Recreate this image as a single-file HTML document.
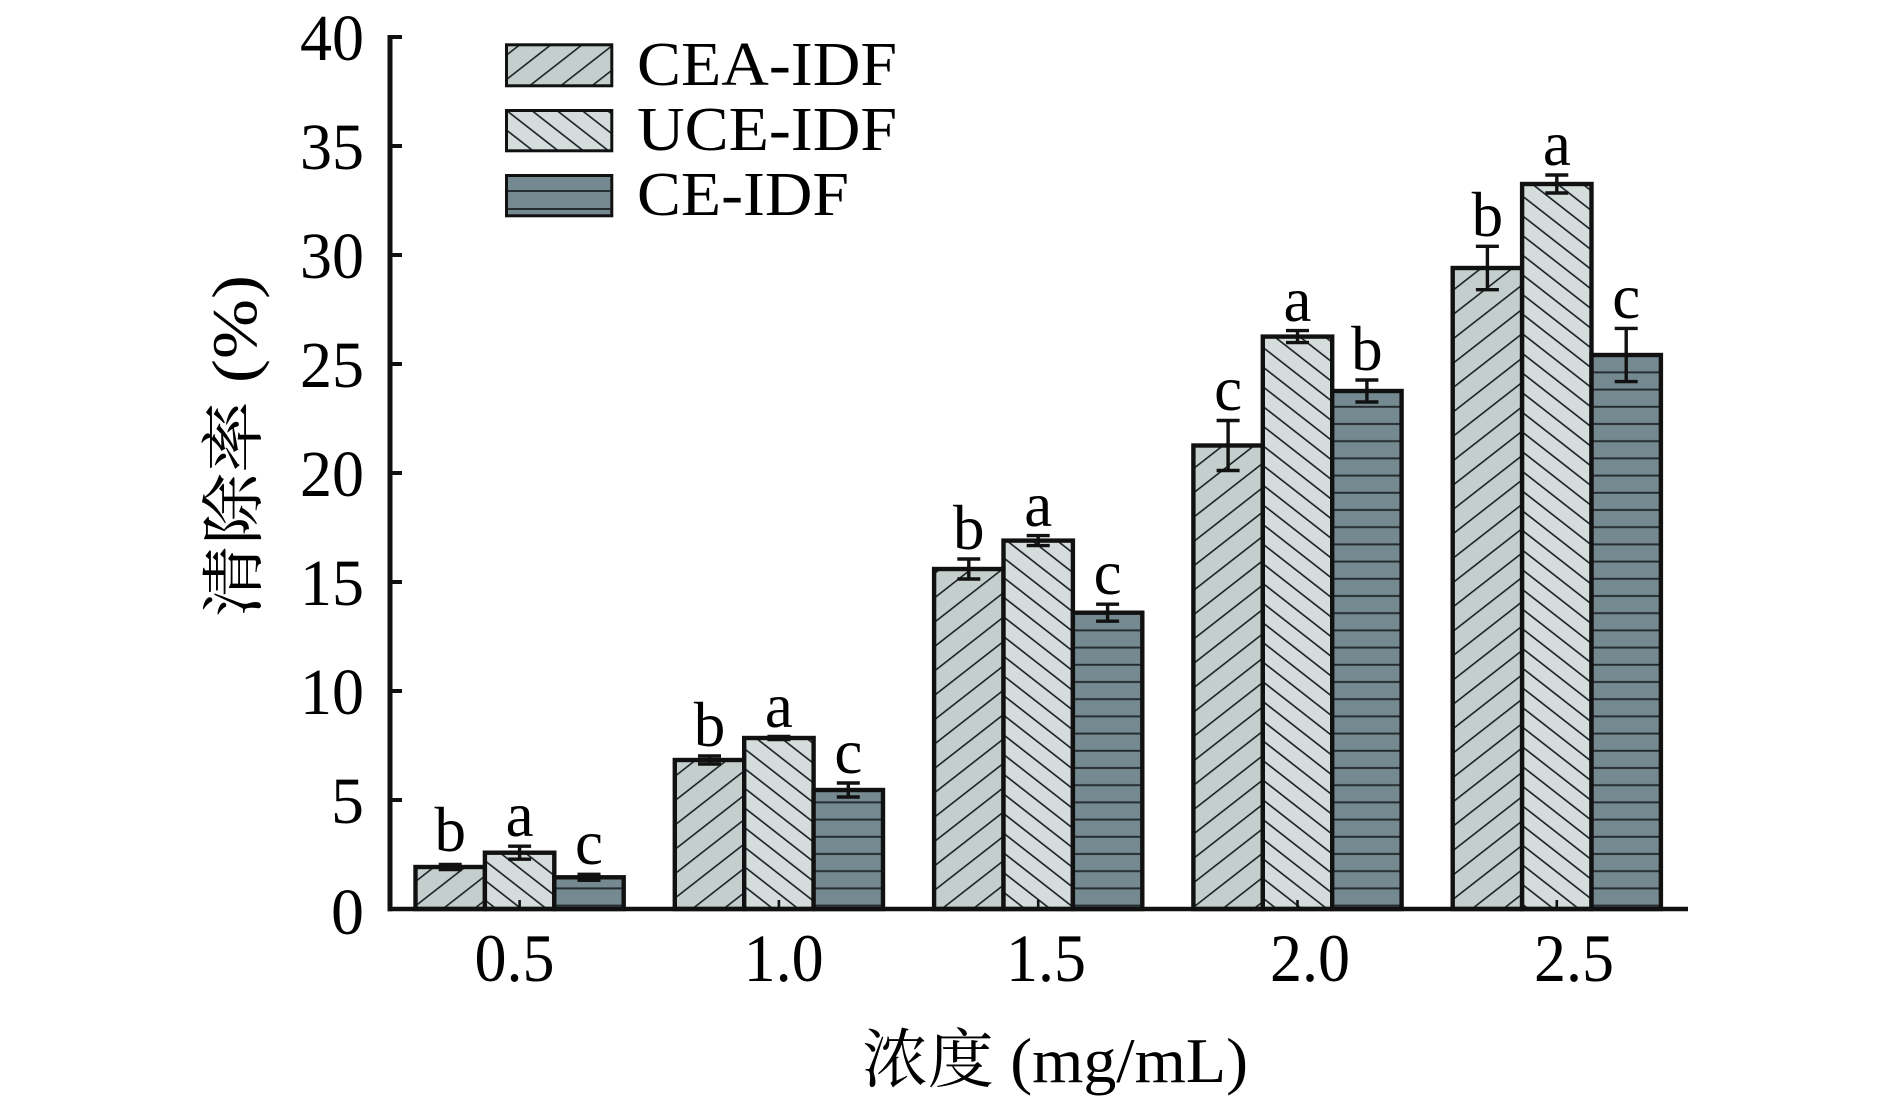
<!DOCTYPE html>
<html>
<head>
<meta charset="utf-8">
<style>
html,body{margin:0;padding:0;background:#fff;}
svg{display:block;}
text{font-family:"Liberation Serif","Noto Serif CJK SC",serif;fill:#000;}
</style>
</head>
<body>
<svg width="1890" height="1103" viewBox="0 0 1890 1103" xmlns="http://www.w3.org/2000/svg">
<defs>
  <pattern id="pCEA" patternUnits="userSpaceOnUse" width="40" height="19.2" patternTransform="rotate(-38)">
    <rect x="0" y="0" width="40" height="19.2" fill="#c4cfcd"/>
    <line x1="0" y1="9.6" x2="40" y2="9.6" stroke="#1c2224" stroke-width="1.6"/>
  </pattern>
  <pattern id="pUCE" patternUnits="userSpaceOnUse" width="40" height="15.5" patternTransform="rotate(38)">
    <rect x="0" y="0" width="40" height="15.5" fill="#d4dcdc"/>
    <line x1="0" y1="7.7" x2="40" y2="7.7" stroke="#1c2224" stroke-width="1.6"/>
  </pattern>
  <pattern id="pCE" patternUnits="userSpaceOnUse" width="40" height="17.2" y="0">
    <rect x="0" y="0" width="40" height="17.2" fill="#758990"/>
    <line x1="0" y1="11.2" x2="40" y2="11.2" stroke="#262d30" stroke-width="1.9"/>
  </pattern>
</defs>

<!-- Legend -->
<rect x="506.5" y="44.8" width="105.3" height="41" fill="url(#pCEA)" stroke="#111" stroke-width="3"/>
<rect x="506.5" y="110.5" width="105.3" height="40.3" fill="url(#pUCE)" stroke="#111" stroke-width="3"/>
<rect x="506.5" y="175.5" width="105.3" height="40.3" fill="#758990" stroke="#111" stroke-width="3"/>
<line x1="508" y1="191" x2="610.3" y2="191" stroke="#262d30" stroke-width="1.9"/>
<line x1="508" y1="209" x2="610.3" y2="209" stroke="#262d30" stroke-width="1.9"/>
<text x="637" y="85" font-size="62" textLength="260" lengthAdjust="spacingAndGlyphs">CEA-IDF</text>
<text x="637" y="150" font-size="62" textLength="260" lengthAdjust="spacingAndGlyphs">UCE-IDF</text>
<text x="637" y="215" font-size="62" textLength="212" lengthAdjust="spacingAndGlyphs">CE-IDF</text>

<!-- Bars -->
<g stroke="#111" stroke-width="4.4" stroke-linejoin="miter">
  <rect x="415.5" y="867" width="69.4" height="42" fill="url(#pCEA)"/>
  <rect x="484.9" y="852.7" width="69.4" height="56.3" fill="url(#pUCE)"/>
  <rect x="554.3" y="877.3" width="69.4" height="31.7" fill="url(#pCE)"/>
  <rect x="674.8" y="760" width="69.4" height="149" fill="url(#pCEA)"/>
  <rect x="744.2" y="738" width="69.4" height="171" fill="url(#pUCE)"/>
  <rect x="813.6" y="790" width="69.4" height="119" fill="url(#pCE)"/>
  <rect x="934.1" y="569" width="69.4" height="340" fill="url(#pCEA)"/>
  <rect x="1003.5" y="540.6" width="69.4" height="368.4" fill="url(#pUCE)"/>
  <rect x="1072.9" y="612.7" width="69.4" height="296.3" fill="url(#pCE)"/>
  <rect x="1193.4" y="445.5" width="69.4" height="463.5" fill="url(#pCEA)"/>
  <rect x="1262.8" y="336.6" width="69.4" height="572.4" fill="url(#pUCE)"/>
  <rect x="1332.2" y="391" width="69.4" height="518" fill="url(#pCE)"/>
  <rect x="1452.7" y="268" width="69.4" height="641" fill="url(#pCEA)"/>
  <rect x="1522.1" y="184" width="69.4" height="725" fill="url(#pUCE)"/>
  <rect x="1591.5" y="355" width="69.4" height="554" fill="url(#pCE)"/>
</g>

<!-- Error bars -->
<g stroke="#111" stroke-width="3.4" fill="none">
  <path d="M450.2 864.5V869.5M438.7 864.5H461.7M438.7 869.5H461.7"/>
  <path d="M519.6 846.2V859.2M508.1 846.2H531.1M508.1 859.2H531.1"/>
  <path d="M589 874.3V880.3M577.5 874.3H600.5M577.5 880.3H600.5"/>
  <path d="M709.5 756V764M698 756H721M698 764H721"/>
  <path d="M778.9 736.5V739.5M767.4 736.5H790.4M767.4 739.5H790.4"/>
  <path d="M848.3 783V797M836.8 783H859.8M836.8 797H859.8"/>
  <path d="M968.8 559V579M957.3 559H980.3M957.3 579H980.3"/>
  <path d="M1038.2 535.6V545.6M1026.7 535.6H1049.7M1026.7 545.6H1049.7"/>
  <path d="M1107.6 604.2V621.2M1096.1 604.2H1119.1M1096.1 621.2H1119.1"/>
  <path d="M1228.1 420.5V470.5M1216.6 420.5H1239.6M1216.6 470.5H1239.6"/>
  <path d="M1297.5 330.6V342.6M1286 330.6H1309M1286 342.6H1309"/>
  <path d="M1366.9 380V402M1355.4 380H1378.4M1355.4 402H1378.4"/>
  <path d="M1487.4 246.3V289.7M1475.9 246.3H1498.9M1475.9 289.7H1498.9"/>
  <path d="M1556.8 175V193M1545.3 175H1568.3M1545.3 193H1568.3"/>
  <path d="M1626.2 328.4V381.6M1614.7 328.4H1637.7M1614.7 381.6H1637.7"/>
</g>

<!-- Significance letters -->
<g font-size="63" text-anchor="middle">
  <text x="450.2" y="851">b</text>
  <text x="519.6" y="836">a</text>
  <text x="589" y="864">c</text>
  <text x="709.5" y="746">b</text>
  <text x="778.9" y="727">a</text>
  <text x="848.3" y="773">c</text>
  <text x="968.8" y="549">b</text>
  <text x="1038.2" y="526">a</text>
  <text x="1107.6" y="594">c</text>
  <text x="1228.1" y="410">c</text>
  <text x="1297.5" y="321">a</text>
  <text x="1366.9" y="370">b</text>
  <text x="1487.4" y="236">b</text>
  <text x="1556.8" y="165">a</text>
  <text x="1626.2" y="318">c</text>
</g>

<!-- Axes -->
<g stroke="#111">
  <line x1="390" y1="35" x2="390" y2="911.2" stroke-width="5"/>
  <line x1="387.5" y1="909" x2="1688" y2="909" stroke-width="4.4"/>
  <g stroke-width="4">
    <line x1="390" y1="37" x2="402" y2="37"/>
    <line x1="390" y1="146" x2="402" y2="146"/>
    <line x1="390" y1="255" x2="402" y2="255"/>
    <line x1="390" y1="364" x2="402" y2="364"/>
    <line x1="390" y1="473" x2="402" y2="473"/>
    <line x1="390" y1="582" x2="402" y2="582"/>
    <line x1="390" y1="691" x2="402" y2="691"/>
    <line x1="390" y1="800" x2="402" y2="800"/>
  </g>
  <g stroke-width="2.6">
    <line x1="519.6" y1="900" x2="519.6" y2="908"/>
    <line x1="778.9" y1="900" x2="778.9" y2="908"/>
    <line x1="1038.2" y1="900" x2="1038.2" y2="908"/>
    <line x1="1297.5" y1="900" x2="1297.5" y2="908"/>
    <line x1="1556.8" y1="900" x2="1556.8" y2="908"/>
  </g>
</g>

<!-- Y tick labels -->
<g font-size="66" text-anchor="end">
  <text x="364" y="60" textLength="64" lengthAdjust="spacingAndGlyphs">40</text>
  <text x="364" y="169" textLength="64" lengthAdjust="spacingAndGlyphs">35</text>
  <text x="364" y="278" textLength="64" lengthAdjust="spacingAndGlyphs">30</text>
  <text x="364" y="387" textLength="64" lengthAdjust="spacingAndGlyphs">25</text>
  <text x="364" y="496" textLength="64" lengthAdjust="spacingAndGlyphs">20</text>
  <text x="364" y="605" textLength="64" lengthAdjust="spacingAndGlyphs">15</text>
  <text x="364" y="714" textLength="64" lengthAdjust="spacingAndGlyphs">10</text>
  <text x="364" y="823">5</text>
  <text x="364" y="934">0</text>
</g>

<!-- X tick labels -->
<g font-size="68" text-anchor="middle">
  <text x="514.5" y="981" textLength="80" lengthAdjust="spacingAndGlyphs">0.5</text>
  <text x="783.6" y="981" textLength="80" lengthAdjust="spacingAndGlyphs">1.0</text>
  <text x="1046" y="981" textLength="80" lengthAdjust="spacingAndGlyphs">1.5</text>
  <text x="1310" y="981" textLength="80" lengthAdjust="spacingAndGlyphs">2.0</text>
  <text x="1574" y="981" textLength="80" lengthAdjust="spacingAndGlyphs">2.5</text>
</g>

<!-- Axis titles -->
<text x="862" y="1082" font-size="64" textLength="386" lengthAdjust="spacingAndGlyphs">浓度 (mg/mL)</text>
<text transform="translate(256,446) rotate(-90)" x="0" y="0" font-size="64" text-anchor="middle" textLength="342" lengthAdjust="spacingAndGlyphs">清除率 (%)</text>
</svg>
</body>
</html>
